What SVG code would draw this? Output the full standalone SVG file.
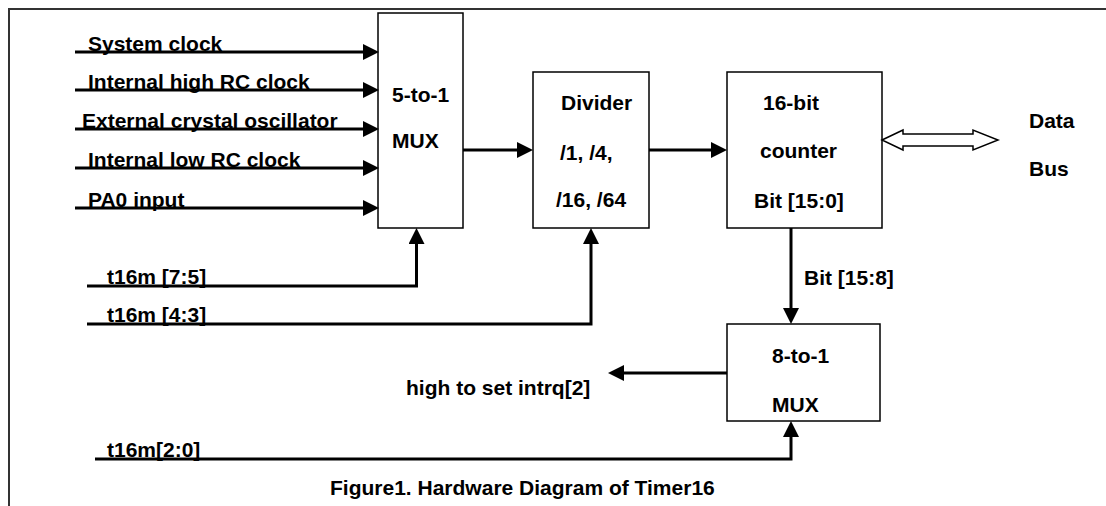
<svg xmlns="http://www.w3.org/2000/svg" width="1106" height="506" viewBox="0 0 1106 506">
<style>
text{font-family:"Liberation Sans",Arial,sans-serif;font-weight:bold;font-size:21px;fill:#000}
.box{fill:#fff;stroke:#000;stroke-width:1.5}
.wire{fill:none;stroke:#000;stroke-width:3;stroke-linejoin:miter}
.arr{marker-end:url(#ah)}
.frame{fill:none;stroke:#333;stroke-width:2}
</style>
<defs>
<marker id="ah" markerUnits="userSpaceOnUse" markerWidth="16" markerHeight="16" refX="3" refY="8" orient="auto">
<path d="M0,0 L16,8 L0,16 z" fill="#000"/>
</marker>
</defs>
<rect width="1106" height="506" fill="#fff"/>
<path class="frame" d="M9,506 V9 H1106"/>

<g id="mux5">
<rect class="box" x="378" y="13" width="85" height="215"/>
<text x="392" y="102">5-to-1</text>
<text x="392" y="148">MUX</text>
</g>
<g id="divider">
<rect class="box" x="533" y="72" width="116" height="156"/>
<text x="561" y="110">Divider</text>
<text x="560" y="160">/1, /4,</text>
<text x="556" y="207">/16, /64</text>
</g>
<g id="counter">
<rect class="box" x="727" y="72" width="155" height="156"/>
<text x="763" y="110">16-bit</text>
<text x="760" y="158">counter</text>
<text x="754" y="208">Bit [15:0]</text>
</g>
<g id="mux8">
<rect class="box" x="727" y="324" width="153" height="97"/>
<text x="772" y="363">8-to-1</text>
<text x="772" y="412">MUX</text>
</g>
<g id="databus">
<text x="1029" y="128">Data</text>
<text x="1029" y="176">Bus</text>
</g>

<g id="connectors">
<line class="wire arr" x1="75" y1="52" x2="366" y2="52"/>
<line class="wire arr" x1="75" y1="90" x2="366" y2="90"/>
<line class="wire arr" x1="75" y1="129" x2="366" y2="129"/>
<line class="wire arr" x1="75" y1="168" x2="366" y2="168"/>
<line class="wire arr" x1="75" y1="208" x2="366" y2="208"/>
<text x="88" y="51">System clock</text>
<text x="88" y="89">Internal high RC clock</text>
<text x="82" y="128">External crystal oscillator</text>
<text x="88" y="167">Internal low RC clock</text>
<text x="88" y="207">PA0 input</text>

<line class="wire arr" x1="463" y1="150" x2="520" y2="150"/>
<line class="wire arr" x1="649" y1="150" x2="714" y2="150"/>

<polygon points="882,140 903,130 903,134 973,134 973,130 998,140 973,150 973,146 903,146 903,150" fill="#fff" stroke="#000" stroke-width="1.5"/>

<polyline class="wire arr" points="87,286 416.5,286 416.5,241"/>
<text x="107" y="284">t16m [7:5]</text>
<polyline class="wire arr" points="87,324 591,324 591,241"/>
<text x="107" y="322">t16m [4:3]</text>

<line class="wire arr" x1="791" y1="228" x2="791" y2="311"/>
<text x="804" y="285">Bit [15:8]</text>

<line class="wire arr" x1="727" y1="373" x2="621" y2="373"/>
<text x="406" y="395">high to set intrq[2]</text>

<polyline class="wire arr" points="95,459 791,459 791,434"/>
<text x="107" y="457">t16m[2:0]</text>
</g>

<text id="caption" x="330" y="495">Figure1. Hardware Diagram of Timer16</text>
</svg>
